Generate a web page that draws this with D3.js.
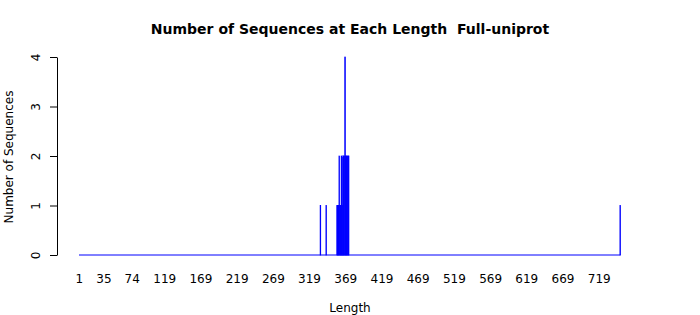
<!DOCTYPE html>
<html>
  <head>
    <meta charset="utf-8" />
    <title>Number of Sequences at Each Length</title>
    <script src="https://d3js.org/d3.v7.min.js"></script>
    <style>
      body {
        margin: 0;
        background: #fff;
      }
      text {
        font-family: "DejaVu Sans", sans-serif;
      }
    </style>
  </head>
  <body>
    <svg id="chart"></svg>

    <script>
      // sequence lengths that have at least one sequence, and how many
      var lengths = [334, 342, 357, 358, 359, 360, 361, 362, 363, 364, 365, 366, 367, 368, 369, 370, 371, 372, 373, 748];
      var counts  = [1,   1,   1,   1,   1,   2,   1,   1,   2,   1,   2,   2,   2,   4,   2,   2,   2,   2,   2,   1];
      var minLength = 1;
      var maxLength = 748;
      var xLabels = [1, 35, 74, 119, 169, 219, 269, 319, 369, 419, 469, 519, 569, 619, 669, 719];
      var yTicks = [0, 1, 2, 3, 4];

      var width = 700;
      var height = 315;

      var svg = d3.select("#chart")
        .attr("width", width)
        .attr("height", height);

      var data = lengths.map(function(d, i) {
        return {len: d, n: counts[i]};
      });

      // every length from min to max is a category, like barplot(table(...))
      var x = d3.scaleBand()
        .domain(d3.range(minLength, maxLength + 1))
        .range([79, 620.5])
        .paddingInner(0.2);

      var y = d3.scaleLinear()
        .domain([0, 4])
        .range([255, 57]);

      // zero-height bars show up as a line along the base
      svg.append("line")
        .attr("x1", x(minLength))
        .attr("x2", x(maxLength) + x.bandwidth())
        .attr("y1", y(0))
        .attr("y2", y(0))
        .attr("stroke", "#0000ff")
        .attr("stroke-width", 1);

      svg.selectAll(".bar")
        .data(data)
        .enter().append("rect")
        .attr("class", "bar")
        .attr("x", function(d) { return x(d.len); })
        .attr("width", x.bandwidth())
        .attr("y", function(d) { return y(d.n); })
        .attr("height", function(d) { return y(0) - y(d.n); })
        .attr("fill", "#0000ff")
        .attr("stroke", "#0000ff")
        .attr("stroke-width", 0.75);

      // y axis
      var yAxis = svg.append("g")
        .attr("transform", "translate(57,0)")
        .call(d3.axisLeft(y).tickValues(yTicks).tickSize(7).tickSizeOuter(0).tickFormat(d3.format("d")));

      yAxis.select(".domain").attr("stroke", "#000");
      yAxis.selectAll(".tick line").attr("stroke", "#000");
      yAxis.selectAll(".tick text")
        .attr("font-size", 12)
        .attr("fill", "#000")
        .attr("x", 0)
        .attr("dy", 0)
        .attr("text-anchor", "middle")
        .attr("transform", "translate(-17,0) rotate(-90)");

      // x labels, no axis line
      svg.append("g").selectAll("text")
        .data(xLabels)
        .enter().append("text")
        .attr("x", function(d) { return x(d) + x.bandwidth() / 2; })
        .attr("y", 283)
        .attr("text-anchor", "middle")
        .attr("font-size", 12)
        .text(function(d) { return d; });

      svg.append("text")
        .attr("x", 350)
        .attr("y", 34)
        .attr("text-anchor", "middle")
        .attr("font-size", 14)
        .attr("font-weight", "bold")
        .style("white-space", "pre")
        .text("Number of Sequences at Each Length  Full-uniprot");

      svg.append("text")
        .attr("x", 350)
        .attr("y", 312)
        .attr("text-anchor", "middle")
        .attr("font-size", 12)
        .text("Length");

      svg.append("text")
        .attr("transform", "translate(13,157) rotate(-90)")
        .attr("text-anchor", "middle")
        .attr("font-size", 12)
        .text("Number of Sequences");
    </script>
  </body>
</html>
